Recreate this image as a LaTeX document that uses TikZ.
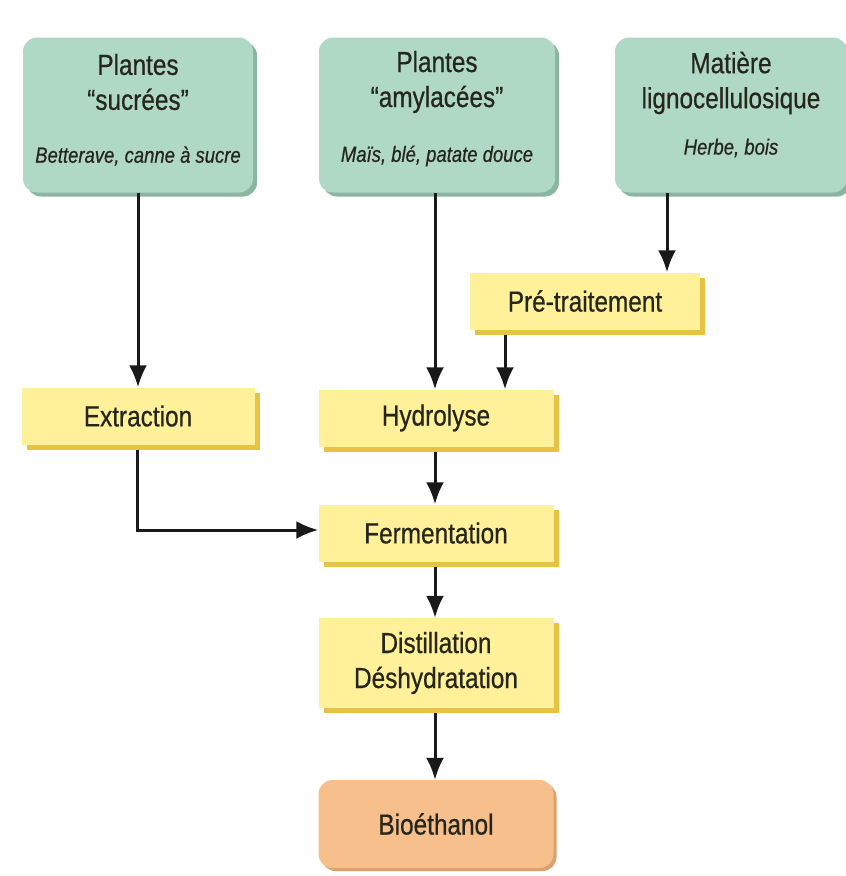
\documentclass[tikz,border=0pt]{standalone}
\usepackage{fontspec}
\setmainfont{Liberation Sans}[FakeStretch=0.84,FakeBold=0.6]
\usetikzlibrary{arrows.meta,shadows}
\definecolor{gfill}{HTML}{AFD8C5}
\definecolor{gshad}{HTML}{8AB5A1}
\definecolor{yfill}{HTML}{FFF09A}
\definecolor{yshad}{HTML}{E6C245}
\definecolor{ofill}{HTML}{F6BF8C}
\definecolor{oshad}{HTML}{D9A070}
\definecolor{txt}{HTML}{26261A}
\begin{document}
\begin{tikzpicture}[x=1pt,y=-1pt,
  greenbox/.style={fill=gfill,rounded corners=14pt,
    general shadow={fill=gshad,shadow xshift=4pt,shadow yshift=-4pt}},
  yellowbox/.style={fill=yfill,text=txt,
    font=\fontsize{29}{35}\selectfont,align=center,
    general shadow={fill=yshad,shadow xshift=5pt,shadow yshift=-5pt}},
  orangebox/.style={fill=ofill,rounded corners=14pt,text=txt,
    font=\fontsize{29}{35}\selectfont,
    general shadow={fill=oshad,shadow xshift=3pt,shadow yshift=-3pt}},
  title/.style={text=txt,font=\fontsize{29}{35}\selectfont,align=center,inner sep=0pt},
  sub/.style={text=txt,font=\fontsize{22}{26}\selectfont\itshape,inner sep=0pt},
  arr/.style={draw=black!90,line width=3pt,-{Latex[length=22pt,width=18pt]}}]
\useasboundingbox[fill=white] (0,0) rectangle (846,876);

% green source boxes
\node[greenbox,minimum width=230pt,minimum height=155pt] (g1) at (138,115) {};
\node[title] (g1t) at (138,82) {Plantes\\``sucrées''};
\node[sub] (g1i) at (138,156) {Betterave, canne à sucre};

\node[greenbox,minimum width=236pt,minimum height=155pt] (g2) at (437,115) {};
\node[title] (g2t) at (437,82) {Plantes\\``amylacées''};
\node[sub] (g2i) at (437,156) {Maïs, blé, patate douce};

\node[greenbox,minimum width=232pt,minimum height=155pt] (g3) at (731,115) {};
\node[title] (g3t) at (731,83) {Matière\\lignocellulosique};
\node[sub] (g3i) at (731,148) {Herbe, bois};

% process boxes
\node[yellowbox,minimum width=230pt,minimum height=57pt] (pre) at (585,301) {Pré-traitement};
\node[yellowbox,minimum width=233pt,minimum height=57pt] (ext) at (138,416) {Extraction};
\node[yellowbox,minimum width=235pt,minimum height=57pt] (hyd) at (436,418) {Hydrolyse};
\node[yellowbox,minimum width=235pt,minimum height=57pt] (ferm) at (436,533) {Fermentation};
\node[yellowbox,minimum width=235pt,minimum height=90pt] (dist) at (436,663) {Distillation\\Déshydratation};
\node[orangebox,minimum width=235pt,minimum height=88pt] (bio) at (436,824) {Bioéthanol};

% connectors
\draw[arr] (g1.south) -- (ext.north);
\draw[arr] (g2.south -| 435,0) -- (hyd.north -| 435,0);
\draw[arr] (g3.south -| 667,0) -- (pre.north -| 667,0);
\draw[arr] ([yshift=-5pt]pre.south -| 505,0) -- (hyd.north -| 505,0);
\draw[arr] ([yshift=-5pt]hyd.south -| 435,0) -- (ferm.north -| 435,0);
\draw[arr] ([yshift=-5pt]ext.south -| 137,0) |- ([yshift=3pt]ferm.west);
\draw[arr] ([yshift=-5pt]ferm.south -| 435,0) -- (dist.north -| 435,0);
\draw[arr] ([yshift=-5pt]dist.south -| 435,0) -- (bio.north -| 435,0);
\end{tikzpicture}
\end{document}
